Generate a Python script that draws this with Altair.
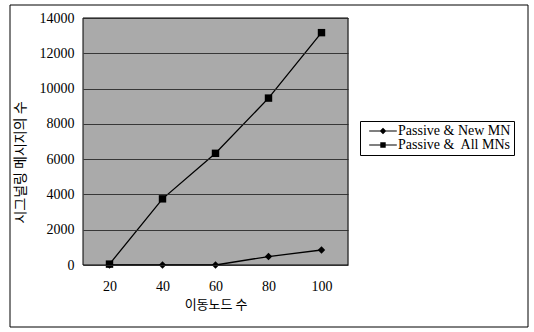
import altair as alt
import pandas as pd

nodes = [20, 40, 60, 80, 100]
series_names = ["Passive & New MN", "Passive &\u00a0 All MNs"]
new_mn = [0, 0, 0, 480, 850]
all_mns = [50, 3750, 6330, 9460, 13170]
y_ticks = [0, 2000, 4000, 6000, 8000, 10000, 12000, 14000]
marker_shapes = ["diamond", "square"]
legend_shapes = ["M-2.3,-0.09H2.3V0.09H-2.3ZM0,-0.55L0.55,0L0,0.55L-0.55,0Z",
                 "M-2.3,-0.09H2.3V0.09H-2.3ZM-0.45,-0.45H0.45V0.45H-0.45Z"]

rows = []
for s, vals in zip(series_names, [new_mn, all_mns]):
    for n, v in zip(nodes, vals):
        rows.append({"node": n, "series": s, "value": v})
df = pd.DataFrame(rows)

serif = "Liberation Serif, DejaVu Serif, serif"
kr = "Noto Sans CJK KR"
W, H = 265, 247

x = alt.X("node:O", axis=alt.Axis(title="이동노드 수", labelAngle=0, ticks=False, domain=False,
                                  labelFont=serif, labelFontSize=14, labelColor="black", labelPadding=14,
                                  titleFont=kr, titleFontSize=13, titleFontWeight="normal",
                                  titleColor="black", titlePadding=5, grid=False),
          scale=alt.Scale(padding=0.5))
y = alt.Y("value:Q", scale=alt.Scale(domain=[0, 14000], nice=False),
          axis=alt.Axis(title="시그널링 메시지의 수", values=y_ticks, format="d", ticks=False, domain=False,
                        labelFont=serif, labelFontSize=14, labelColor="black", labelPadding=9,
                        titleFont=kr, titleFontSize=14, titleFontWeight="normal", titleColor="black",
                        titlePadding=12, titleY=144, zindex=1,
                        grid=True, gridColor="#2a2a2a", gridWidth=1, gridOpacity=0.9))

base = alt.Chart(df)

bg = alt.Chart(pd.DataFrame({"a": [0]})).mark_rect(fill="#aaaaaa", stroke="black", strokeWidth=1).encode(
    x=alt.value(0), x2=alt.value(W), y=alt.value(0), y2=alt.value(H))

lines = base.mark_line(color="black", strokeWidth=1.3).encode(x=x, y=y, detail="series:N")

point_layers = [
    base.transform_filter(alt.datum.series == s).mark_point(
        filled=True, color="black", opacity=1, size=55, shape=shp).encode(x=x, y=y)
    for s, shp in zip(series_names, marker_shapes)
]

# legend-only layer: marks pushed outside the domain and clipped
legend_layer = base.transform_calculate(value="-100000").mark_point(
    filled=True, color="black", opacity=1, clip=True).encode(
    x=x, y=y,
    shape=alt.Shape("series:N", sort=series_names,
                    scale=alt.Scale(domain=series_names, range=legend_shapes),
                    legend=alt.Legend(title=None, orient="none", legendX=277, legendY=103,
                                      labelFont=serif, labelFontSize=14, labelColor="black",
                                      symbolSize=144, symbolFillColor="black",
                                      strokeColor="black", padding=3,
                                      symbolOffset=13, rowPadding=0, labelOffset=8, fillColor="white")))

frame = alt.Chart(pd.DataFrame({"a": [0]})).mark_rect(fill=None, stroke="black", strokeWidth=1).encode(
    x=alt.value(-73), x2=alt.value(445), y=alt.value(-13), y2=alt.value(309))

chart = alt.layer(bg, lines, *point_layers, legend_layer, frame).properties(
    width=W, height=H,
    autosize=alt.AutoSizeParams(type="none"),
    padding={"left": 83, "top": 18, "right": 534 - 83 - W, "bottom": 332 - 18 - H},
).configure_view(stroke=None).configure(background="white")

chart.save("out.html", embed_options={"renderer": "svg", "actions": False})
